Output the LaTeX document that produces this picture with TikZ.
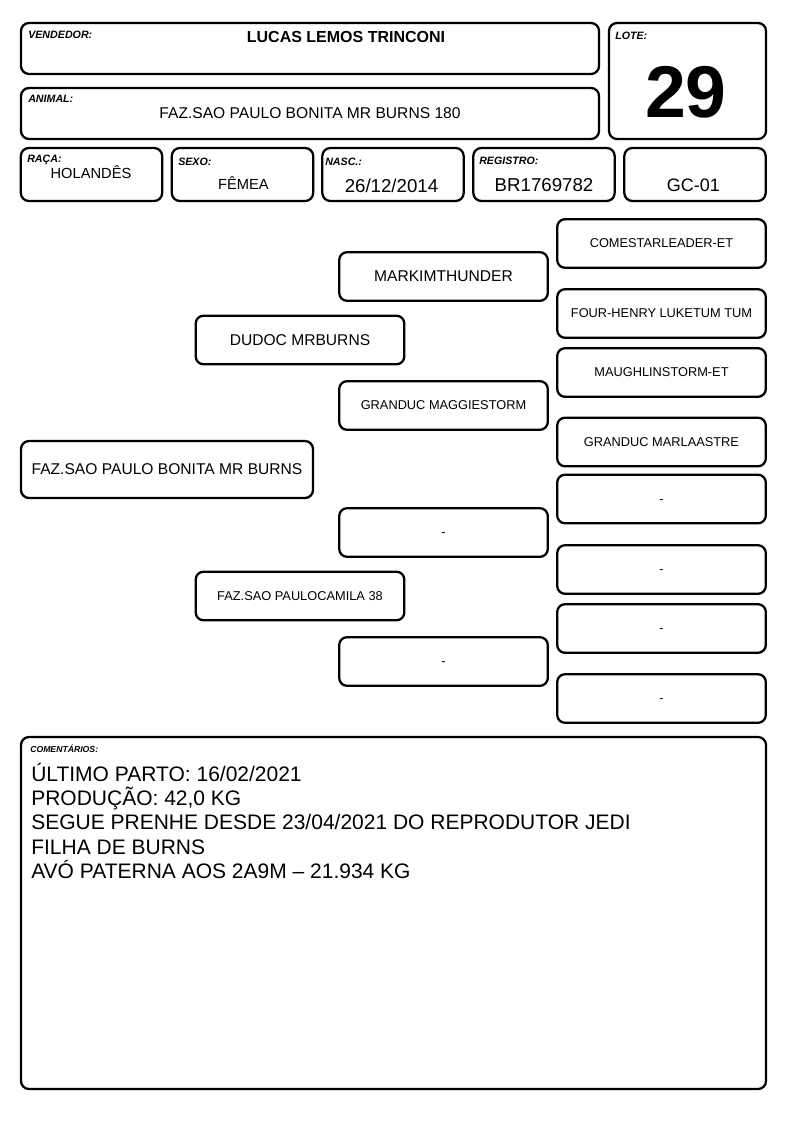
\documentclass[tikz,border=0pt]{standalone}
\usepackage{fontspec}
\setmainfont{Liberation Sans}
\usepackage{tikz}
\tikzstyle{box} = [rectangle, draw, line width=1.7pt, rounded corners=6pt, inner sep=0pt]
\tikzstyle{head} = [box, minimum width=433.5pt, minimum height=38.25pt]
\tikzstyle{cell} = [box, minimum width=106pt, minimum height=39.75pt]
\tikzstyle{ped} = [box, minimum width=156.5pt, minimum height=36.5pt]
\tikzstyle{lbl} = [anchor=base west, inner sep=0pt, font=\fontsize{8}{9}\selectfont\bfseries\itshape]
\tikzstyle{val} = [anchor=base, inner sep=0pt]
\tikzstyle{big} = [font=\fontsize{11.7}{14}\selectfont]
\tikzstyle{small} = [font=\fontsize{9.6}{11}\selectfont]
\tikzstyle{obs} = [anchor=base west, inner sep=0pt, font=\fontsize{15.75}{18}\selectfont]
\newcommand{\vazio}{\vphantom{A}-}

\begin{document}
\begin{tikzpicture}[x=0.75pt, y=-0.75pt]
    \useasboundingbox (0,0) rectangle (794,1123);
    % cabecalho
    \node[head] (vend) at (310,48.5) {};
    \node[head] (anim) at (310,113.5) {};
    \node[box, minimum width=117.75pt, minimum height=87pt] (lote) at (687.5,81) {};
    \node[lbl] at (28,39) {VENDEDOR:};
    \node[lbl] at (28,103) {ANIMAL:};
    \node[lbl] at (615,40) {LOTE:};
    \node[val, font=\fontsize{12}{14}\selectfont\bfseries] (vendnome) at (346,42.7) {LUCAS LEMOS TRINCONI};
    \node[val, big] (animnome) at (310,119) {FAZ.SAO PAULO BONITA MR BURNS 180};
    \node[val, font=\fontsize{55}{60}\selectfont\bfseries] (lotenum) at (686,118) {29};
    % dados
    \node[cell] (raca) at (91.5,174.5) {};
    \node[cell] (sexo) at (242.5,174.5) {};
    \node[cell] (nasc) at (393,174.5) {};
    \node[cell] (reg) at (544,174.5) {};
    \node[cell] (gc) at (695,174.5) {};
    \node[lbl] at (27,163) {RAÇA:};
    \node[lbl] at (178,165.5) {SEXO:};
    \node[lbl] at (325,165.5) {NASC.:};
    \node[lbl] at (479,165) {REGISTRO:};
    \node[val, font=\fontsize{11}{13}\selectfont] at (91,178.3) {HOLANDÊS};
    \node[val, font=\fontsize{11}{13}\selectfont] at (243.5,190) {FÊMEA};
    \node[val, font=\fontsize{14}{16}\selectfont] at (391.5,192.7) {26/12/2014};
    \node[val, font=\fontsize{14}{16}\selectfont] at (544,192) {BR1769782};
    \node[val, font=\fontsize{13.5}{16}\selectfont] at (693.3,192) {GC-01};
    % genealogia
    \node[box, big, minimum width=219pt, minimum height=42.75pt] (animal) at (167,469.5) {FAZ.SAO PAULO BONITA MR BURNS};
    \node[ped, big] (pai) at (300,340) {DUDOC MRBURNS};
    \node[ped, small] (mae) at (300,596) {FAZ.SAO PAULOCAMILA 38};
    \node[ped, big] (avopp) at (443.5,276.5) {MARKIMTHUNDER};
    \node[ped, small] (avopm) at (443.5,405.5) {GRANDUC MAGGIESTORM};
    \node[ped, small] (avomp) at (443.5,532.5) {\vazio};
    \node[ped, small] (avomm) at (443.5,661.5) {\vazio};
    \node[ped, small] (bis1) at (661.5,243.5) {COMESTARLEADER-ET};
    \node[ped, small] (bis2) at (661.5,313.5) {FOUR-HENRY LUKETUM TUM};
    \node[ped, small] (bis3) at (661.5,372.5) {MAUGHLINSTORM-ET};
    \node[ped, small] (bis4) at (661.5,442) {GRANDUC MARLAASTRE};
    \node[ped, small] (bis5) at (661.5,499) {\vazio};
    \node[ped, small] (bis6) at (661.5,569.5) {\vazio};
    \node[ped, small] (bis7) at (661.5,628.5) {\vazio};
    \node[ped, small] (bis8) at (661.5,698.5) {\vazio};
    % comentarios
    \node[box, minimum width=558.75pt, minimum height=264pt] (coment) at (393.5,913) {};
    \node[lbl, font=\fontsize{6.5}{8}\selectfont\bfseries\itshape] at (30,752) {COMENTÁRIOS:};
    \node[obs] (obs1) at (31,781) {ÚLTIMO PARTO: 16/02/2021};
    \node[obs] (obs2) at (31,805.4) {PRODUÇÃO: 42,0 KG};
    \node[obs] (obs3) at (31,829.8) {SEGUE PRENHE DESDE 23/04/2021 DO REPRODUTOR JEDI};
    \node[obs] (obs4) at (31,854.2) {FILHA DE BURNS};
    \node[obs] (obs5) at (31,878.6) {AVÓ PATERNA AOS 2A9M – 21.934 KG};
\end{tikzpicture}
\end{document}
